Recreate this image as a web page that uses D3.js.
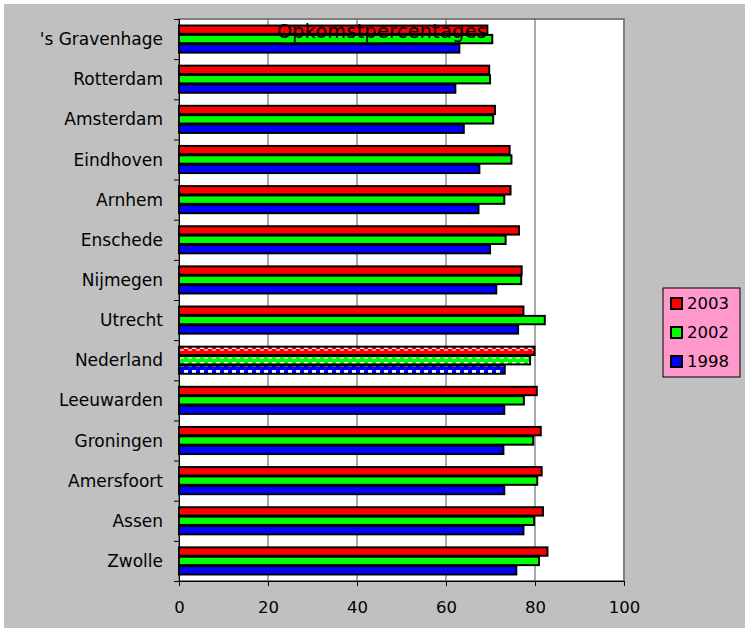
<!DOCTYPE html>
<html>
<head>
<meta charset="utf-8">
<script src="https://cdn.jsdelivr.net/npm/d3@7"></script>
<style>
  body { margin: 0; background: #fff; }
  svg { display: block; font-family: "DejaVu Sans", sans-serif; }
</style>
</head>
<body>
<div id="chart"></div>
<script>
// data
const cities = ["'s Gravenhage", "Rotterdam", "Amsterdam", "Eindhoven", "Arnhem", "Enschede",
  "Nijmegen", "Utrecht", "Nederland", "Leeuwarden", "Groningen", "Amersfoort", "Assen", "Zwolle"];
const years = ["2003", "2002", "1998"];
const v2003 = [69.3, 69.7, 71.0, 74.3, 74.5, 76.4, 77.0, 77.4, 79.9, 80.4, 81.3, 81.5, 81.8, 82.8];
const v2002 = [70.4, 69.9, 70.6, 74.7, 73.1, 73.4, 76.9, 82.2, 78.9, 77.5, 79.6, 80.5, 79.8, 80.9];
const v1998 = [63.0, 62.1, 64.0, 67.5, 67.3, 69.9, 71.3, 76.2, 73.2, 73.1, 72.9, 73.1, 77.4, 75.8];
const xTicks = [0, 20, 40, 60, 80, 100];
const colors = { "2003": "#ff0000", "2002": "#00ff00", "1998": "#0000ff" };

const width = 745, height = 628;
const margin = { left: 179, right: 120, top: 19, bottom: 47 };

const svg = d3.select("#chart").append("svg")
  .attr("width", width)
  .attr("height", height);

// pattern fills for the Nederland bars
const defs = svg.append("defs");
years.forEach((y) => {
  const p = defs.append("pattern")
    .attr("id", "pat" + y)
    .attr("patternUnits", "userSpaceOnUse")
    .attr("width", 8)
    .attr("height", 8);
  p.append("rect").attr("width", 8).attr("height", 8).attr("fill", colors[y]);
  p.append("rect").attr("x", 0).attr("y", 2).attr("width", 4).attr("height", 3).attr("fill", "#fff");
  p.append("rect").attr("x", 4).attr("y", 5).attr("width", 4).attr("height", 2).attr("fill", "#fff").attr("opacity", 0.6);
});

// chart background
svg.append("rect")
  .attr("x", 4).attr("y", 4)
  .attr("width", width - 4).attr("height", height - 4)
  .attr("fill", "#c0c0c0");

const x = d3.scaleLinear().domain([0, 100]).range([margin.left, width - margin.right - 1]);
const y = d3.scaleBand().domain(cities).range([margin.top, height - margin.bottom])
  .paddingInner(0.3).paddingOuter(0.15);
const ySub = d3.scaleBand().domain(years).range([0, y.bandwidth()]);

// plot area
svg.append("rect")
  .attr("x", x(0)).attr("y", margin.top)
  .attr("width", x(100) - x(0)).attr("height", height - margin.bottom - margin.top)
  .attr("fill", "#fff")
  .attr("stroke", "#808080")
  .attr("stroke-width", 2);

// grid lines
svg.append("g")
  .selectAll("line")
  .data(xTicks.slice(1, -1))
  .enter()
  .append("line")
  .attr("x1", (d) => x(d)).attr("x2", (d) => x(d))
  .attr("y1", margin.top).attr("y2", height - margin.bottom)
  .attr("stroke", "#555")
  .attr("stroke-width", 1);

// bars
const values = { "2003": v2003, "2002": v2002, "1998": v1998 };
const rows = [];
cities.forEach((c, i) => {
  years.forEach((yr) => rows.push({ city: c, year: yr, value: values[yr][i] }));
});

svg.append("g")
  .selectAll("rect")
  .data(rows)
  .enter()
  .append("rect")
  .attr("x", x(0))
  .attr("y", (d) => y(d.city) + ySub(d.year) + 0.5)
  .attr("width", (d) => x(d.value) - x(0))
  .attr("height", ySub.bandwidth() - 1)
  .attr("fill", (d) => d.city === "Nederland" ? `url(#pat${d.year})` : colors[d.year])
  .attr("stroke", "#000")
  .attr("stroke-width", 2);

// y axis
const yAxis = d3.axisLeft(d3.scaleLinear().domain([0, cities.length]).range([margin.top, height - margin.bottom]))
  .tickValues(d3.range(cities.length + 1))
  .tickSize(5)
  .tickFormat("");
svg.append("g")
  .attr("transform", `translate(${x(0)},0)`)
  .call(yAxis)
  .call((g) => g.selectAll("path, line").attr("stroke", "#000"));

svg.append("g")
  .selectAll("text")
  .data(cities)
  .enter()
  .append("text")
  .attr("x", 163)
  .attr("y", (d) => y(d) + y.bandwidth() / 2)
  .attr("dy", "0.36em")
  .attr("text-anchor", "end")
  .attr("font-size", 17)
  .attr("fill", "#000")
  .text((d) => d);

// x axis
const xAxis = d3.axisBottom(x).tickValues(xTicks).tickSize(5).tickFormat(d3.format("d"));
svg.append("g")
  .attr("transform", `translate(0,${height - margin.bottom})`)
  .call(xAxis)
  .call((g) => g.selectAll("path, line").attr("stroke", "#000"))
  .call((g) => g.selectAll("text")
    .attr("font-size", 16.5)
    .attr("font-family", "DejaVu Sans, sans-serif")
    .attr("fill", "#000")
    .attr("y", 20));

// title
svg.append("text")
  .attr("x", 382)
  .attr("y", 38)
  .attr("text-anchor", "middle")
  .attr("font-size", 19)
  .attr("letter-spacing", 0.4)
  .attr("fill", "#000")
  .text("Opkomstpercentages");

// legend
const legend = svg.append("g").attr("transform", "translate(663,288)");
legend.append("rect")
  .attr("width", 77).attr("height", 89)
  .attr("fill", "#ff99cc")
  .attr("stroke", "#000")
  .attr("stroke-width", 1);
const item = legend.selectAll("g.item")
  .data(years)
  .enter()
  .append("g")
  .attr("class", "item")
  .attr("transform", (d, i) => `translate(8,${15 + i * 29})`);
item.append("rect")
  .attr("x", 0).attr("y", -5)
  .attr("width", 11).attr("height", 11)
  .attr("fill", (d) => colors[d])
  .attr("stroke", "#000")
  .attr("stroke-width", 2);
item.append("text")
  .attr("x", 16)
  .attr("dy", "0.36em")
  .attr("font-size", 16.5)
  .attr("fill", "#000")
  .text((d) => d);
</script>
</body>
</html>
